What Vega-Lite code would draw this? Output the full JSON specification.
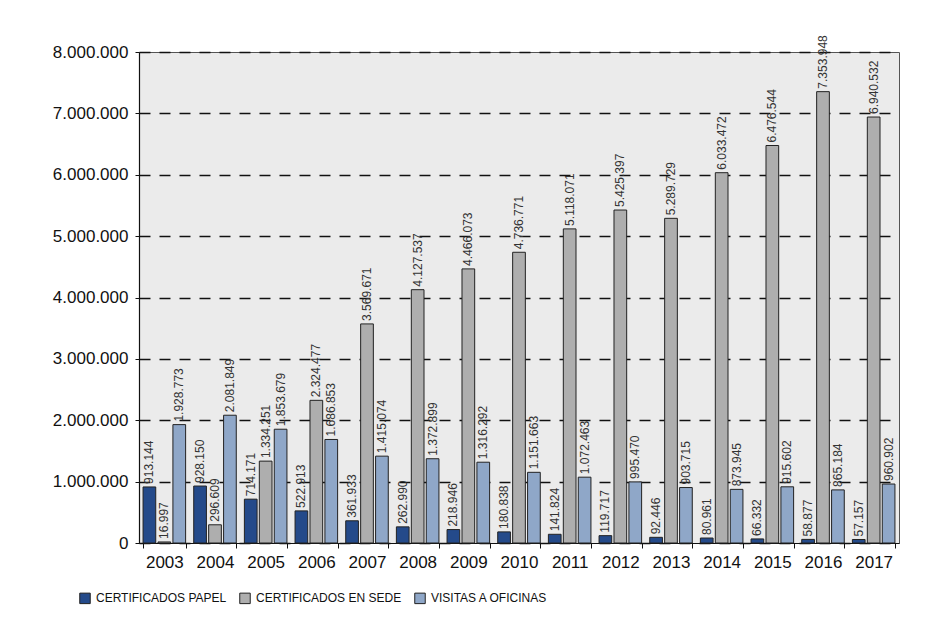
{
  "$schema": "https://vega.github.io/schema/vega-lite/v6.json",
  "width": 760,
  "height": 491,
  "autosize": {"type": "none"},
  "padding": {"left": 139, "top": 52, "right": 37, "bottom": 100},
  "background": "white",
  "config": {
    "locale": {"number": {"decimal": ",", "thousands": ".", "grouping": [3], "currency": ["", " €"]}},
    "font": "Liberation Sans",
    "view": {"fill": "#ebebeb", "stroke": "#555", "strokeWidth": 1}
  },
  "data": {
    "values": [
      {"year": "2003", "serie": "CERTIFICADOS PAPEL", "value": 913144},
      {"year": "2003", "serie": "CERTIFICADOS EN SEDE", "value": 16997},
      {"year": "2003", "serie": "VISITAS A OFICINAS", "value": 1928773},
      {"year": "2004", "serie": "CERTIFICADOS PAPEL", "value": 928150},
      {"year": "2004", "serie": "CERTIFICADOS EN SEDE", "value": 296609},
      {"year": "2004", "serie": "VISITAS A OFICINAS", "value": 2081849},
      {"year": "2005", "serie": "CERTIFICADOS PAPEL", "value": 714171},
      {"year": "2005", "serie": "CERTIFICADOS EN SEDE", "value": 1334251},
      {"year": "2005", "serie": "VISITAS A OFICINAS", "value": 1853679},
      {"year": "2006", "serie": "CERTIFICADOS PAPEL", "value": 522913},
      {"year": "2006", "serie": "CERTIFICADOS EN SEDE", "value": 2324477},
      {"year": "2006", "serie": "VISITAS A OFICINAS", "value": 1686853},
      {"year": "2007", "serie": "CERTIFICADOS PAPEL", "value": 361933},
      {"year": "2007", "serie": "CERTIFICADOS EN SEDE", "value": 3569671},
      {"year": "2007", "serie": "VISITAS A OFICINAS", "value": 1415074},
      {"year": "2008", "serie": "CERTIFICADOS PAPEL", "value": 262990},
      {"year": "2008", "serie": "CERTIFICADOS EN SEDE", "value": 4127537},
      {"year": "2008", "serie": "VISITAS A OFICINAS", "value": 1372899},
      {"year": "2009", "serie": "CERTIFICADOS PAPEL", "value": 218946},
      {"year": "2009", "serie": "CERTIFICADOS EN SEDE", "value": 4466073},
      {"year": "2009", "serie": "VISITAS A OFICINAS", "value": 1316292},
      {"year": "2010", "serie": "CERTIFICADOS PAPEL", "value": 180838},
      {"year": "2010", "serie": "CERTIFICADOS EN SEDE", "value": 4736771},
      {"year": "2010", "serie": "VISITAS A OFICINAS", "value": 1151663},
      {"year": "2011", "serie": "CERTIFICADOS PAPEL", "value": 141824},
      {"year": "2011", "serie": "CERTIFICADOS EN SEDE", "value": 5118071},
      {"year": "2011", "serie": "VISITAS A OFICINAS", "value": 1072463},
      {"year": "2012", "serie": "CERTIFICADOS PAPEL", "value": 119717},
      {"year": "2012", "serie": "CERTIFICADOS EN SEDE", "value": 5425397},
      {"year": "2012", "serie": "VISITAS A OFICINAS", "value": 995470},
      {"year": "2013", "serie": "CERTIFICADOS PAPEL", "value": 92446},
      {"year": "2013", "serie": "CERTIFICADOS EN SEDE", "value": 5289729},
      {"year": "2013", "serie": "VISITAS A OFICINAS", "value": 903715},
      {"year": "2014", "serie": "CERTIFICADOS PAPEL", "value": 80961},
      {"year": "2014", "serie": "CERTIFICADOS EN SEDE", "value": 6033472},
      {"year": "2014", "serie": "VISITAS A OFICINAS", "value": 873945},
      {"year": "2015", "serie": "CERTIFICADOS PAPEL", "value": 66332},
      {"year": "2015", "serie": "CERTIFICADOS EN SEDE", "value": 6476544},
      {"year": "2015", "serie": "VISITAS A OFICINAS", "value": 915602},
      {"year": "2016", "serie": "CERTIFICADOS PAPEL", "value": 58877},
      {"year": "2016", "serie": "CERTIFICADOS EN SEDE", "value": 7353948},
      {"year": "2016", "serie": "VISITAS A OFICINAS", "value": 865184},
      {"year": "2017", "serie": "CERTIFICADOS PAPEL", "value": 57157},
      {"year": "2017", "serie": "CERTIFICADOS EN SEDE", "value": 6940532},
      {"year": "2017", "serie": "VISITAS A OFICINAS", "value": 960902}
    ]
  },
  "encoding": {
    "x": {
      "field": "year", "type": "nominal", "title": null,
      "scale": {"paddingInner": 0.16, "paddingOuter": 0.08},
      "axis": {
        "labelAngle": 0, "labelFontSize": 17, "labelColor": "#111", "labelPadding": 6,
        "domainColor": "#111", "domainWidth": 1.2, "tickColor": "#111", "tickSize": 5,
        "tickBand": "extent", "grid": false
      }
    },
    "xOffset": {
      "field": "serie", "type": "nominal",
      "sort": ["CERTIFICADOS PAPEL", "CERTIFICADOS EN SEDE", "VISITAS A OFICINAS"],
      "scale": {"paddingInner": 0.15}
    },
    "y": {
      "field": "value", "type": "quantitative", "title": null,
      "scale": {"domain": [0, 8000000], "nice": false},
      "axis": {
        "values": [0, 1000000, 2000000, 3000000, 4000000, 5000000, 6000000, 7000000, 8000000],
        "format": ",d", "labelFontSize": 17, "labelColor": "#111", "labelPadding": 7,
        "domainColor": "#111", "domainWidth": 1.2, "tickColor": "#111", "tickSize": 4,
        "grid": true, "gridColor": "#111", "gridDash": [11, 9], "gridWidth": 1.3
      }
    }
  },
  "layer": [
    {
      "mark": {"type": "bar", "stroke": "#222", "strokeWidth": 1},
      "encoding": {
        "color": {
          "field": "serie", "type": "nominal", "title": null,
          "scale": {
            "domain": ["CERTIFICADOS PAPEL", "CERTIFICADOS EN SEDE", "VISITAS A OFICINAS"],
            "range": ["#244a8a", "#aeaeae", "#8fa7c8"]
          },
          "legend": {
            "orient": "none", "direction": "horizontal", "legendX": -60, "legendY": 540,
            "symbolType": "square", "symbolSize": 110, "symbolStrokeColor": "#222", "symbolStrokeWidth": 1,
            "symbolOpacity": 1,
            "labelFont": "Liberation Sans", "labelFontSize": 12, "labelColor": "#111",
            "columnPadding": 10, "labelLimit": 300, "labelOffset": 5
          }
        }
      }
    },
    {
      "mark": {"type": "text", "angle": 270, "align": "left", "baseline": "middle", "dx": 3, "fontSize": 12, "color": "#333"},
      "encoding": {
        "text": {"field": "value", "type": "quantitative", "format": ",d"}
      }
    }
  ]
}
